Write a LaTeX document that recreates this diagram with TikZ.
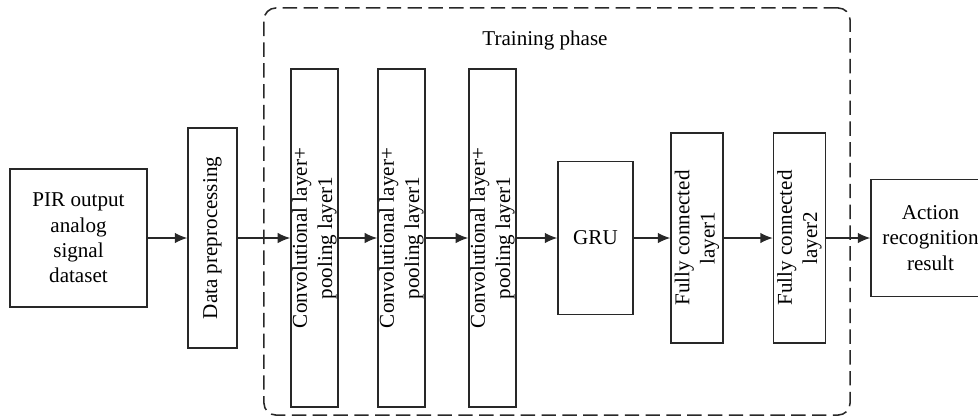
\documentclass[tikz,border=0pt]{standalone}
\usepackage{fontspec}
\setmainfont{Liberation Serif}
\usetikzlibrary{arrows.meta}
\definecolor{ink}{RGB}{40,40,40}
\tikzset{
  box/.style={draw=ink, line width=1pt, align=center, inner sep=1pt,
    font=\fontsize{15}{18}\selectfont},
  vbox/.style={box, rotate=90},
  arr/.style={draw=ink, line width=0.9pt, -{Latex[length=3.1mm,width=2.6mm]}},
  frame/.style={draw=ink, line width=1.1pt, dash pattern=on 3.6mm off 1.6mm,
    rounded corners=3mm}
}
\begin{document}
\begin{tikzpicture}[x=0.025cm, y=-0.025cm]
      \clip (0,0) rectangle (978,417);

      % Training phase frame
      \node[frame, minimum width=14.65cm, minimum height=10.175cm] (train) at (557,211.5) {};
      \node[font=\fontsize{15}{18}\selectfont] (trainlbl) at (545,40) {Training phase};

      % Input & preprocessing
      \node[box, minimum width=3.425cm, minimum height=3.45cm] (pir) at (78.5,238)
        {PIR output\\analog\\signal\\dataset};
      \node[vbox, minimum width=5.5cm, minimum height=1.225cm] (prep) at (212.5,238)
        {Data preprocessing};

      % Conv + pooling layers
      \foreach \x [count=\n] in {314.5,401.5,492.5} {
        \node[vbox, minimum width=8.45cm, minimum height=1.175cm] (conv\n) at (\x,238)
          {Convolutional layer+\\pooling layer1};
      }

      % GRU & fully connected layers
      \node[box, minimum width=1.875cm, minimum height=3.825cm] (gru) at (595.5,238) {GRU};
      \foreach \x [count=\n] in {697,799.5} {
        \node[vbox, minimum width=5.25cm, minimum height=1.3cm] (fc\n) at (\x,238)
          {Fully connected\\layer\n};
      }

      % Output
      \node[box, minimum width=2.975cm, minimum height=2.925cm] (result) at (930.5,238)
        {Action\\recognition\\result};

      % Arrows
      \foreach \a/\b in {pir/prep, prep/conv1, conv1/conv2, conv2/conv3,
                         conv3/gru, gru/fc1, fc1/fc2, fc2/result} {
        \draw[arr] (\a) -- (\b);
      }
    \end{tikzpicture}
\end{document}
